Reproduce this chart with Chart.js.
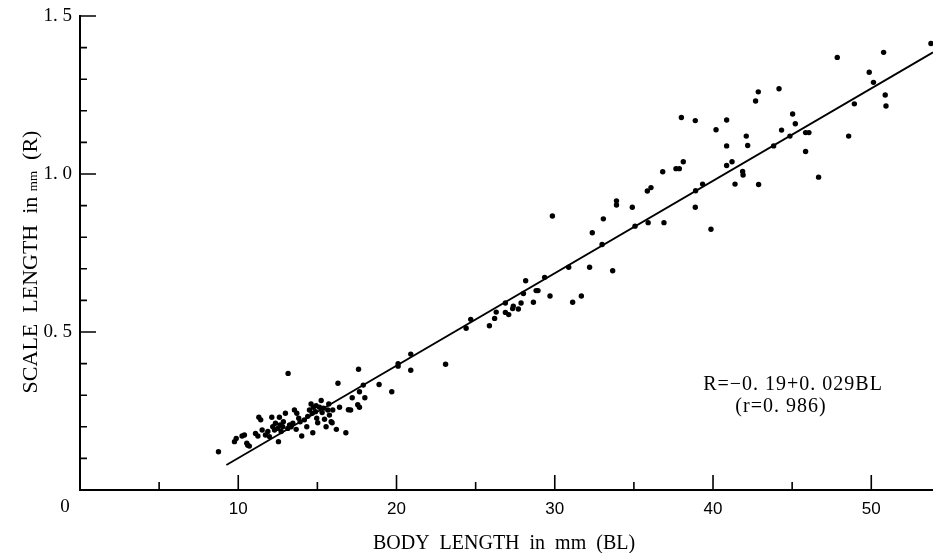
<!DOCTYPE html>
<html>
<head>
<meta charset="utf-8">
<script src="https://cdn.jsdelivr.net/npm/chart.js@4.4.1/dist/chart.umd.min.js"></script>
<style>
  html, body { margin: 0; padding: 0; background: #fff; }
  #wrap { width: 933px; height: 553px; }
</style>
</head>
<body>
<div id="wrap"><canvas id="chart" width="933" height="553"></canvas></div>
<script>
// body length (mm) and scale length (mm)
const bodyLength = [
  8.75, 9.76, 9.87, 10.24, 10.39, 10.54, 10.7, 10.6, 11.09, 11.24, 11.3, 11.42, 11.51, 11.72, 11.87, 11.97,
  12.12, 12.18, 12.29, 12.35, 12.5, 12.54, 12.6, 12.64, 12.71, 12.81, 12.85, 12.98, 13.13, 13.15, 13.24, 13.34,
  13.45, 13.55, 13.66, 13.7, 13.82, 13.91, 14.01, 14.18, 14.33, 14.39, 14.5, 14.6, 14.67, 14.71, 14.75, 14.88,
  14.92, 14.96, 15.02, 15.13, 15.24, 15.3, 15.38, 15.45, 15.55, 15.66, 15.72, 15.76, 15.87, 15.97,
  15.93, 16.2, 16.3, 16.4, 16.8, 16.96, 17.1, 17.2, 17.55, 17.6, 17.66, 17.66, 17.9, 18.0, 18.9, 19.7,
  20.1, 20.1, 20.9, 20.9, 23.1,
  24.4, 24.69, 25.87, 26.2, 26.3, 26.88, 27.09, 26.88, 27.34, 27.38, 27.7, 27.87, 28.02, 28.16, 28.65, 28.82,
  28.94, 29.36, 29.7, 29.85, 30.88, 31.13, 31.68, 32.2, 32.37, 32.99, 33.07, 33.66, 33.9, 33.9,
  34.9, 35.07, 35.9, 35.85, 36.08, 36.82, 36.9, 37.66, 37.87, 38.0, 38.12, 38.88, 38.9, 38.88, 39.34, 39.87,
  40.19, 40.86, 40.86, 40.86, 41.2, 41.39, 41.87, 41.9, 42.1, 42.19, 42.69, 42.86, 42.88, 43.83, 44.17, 44.33,
  44.86, 45.03, 45.2, 45.85, 46.06, 45.85, 46.67, 47.85, 48.57, 48.93, 49.87, 50.14, 50.78, 50.88, 50.93, 53.77
];
const scaleLength = [
  0.121, 0.153, 0.163, 0.171, 0.174, 0.148, 0.139, 0.142, 0.179, 0.171, 0.23, 0.222, 0.19, 0.174, 0.185, 0.169,
  0.23, 0.2, 0.19, 0.211, 0.195, 0.153, 0.23, 0.206, 0.185, 0.2, 0.216, 0.243, 0.195, 0.369, 0.206, 0.2,
  0.211, 0.253, 0.192, 0.243, 0.227, 0.216, 0.171, 0.222, 0.2, 0.233, 0.253, 0.272, 0.243, 0.181, 0.262, 0.248,
  0.267, 0.227, 0.213, 0.262, 0.283, 0.245, 0.259, 0.224, 0.2, 0.253, 0.272, 0.237, 0.216, 0.253,
  0.213, 0.192, 0.338, 0.262, 0.181, 0.254, 0.253, 0.292, 0.27, 0.382, 0.311, 0.262, 0.332, 0.292, 0.334, 0.311,
  0.40, 0.392, 0.43, 0.379, 0.398,
  0.512, 0.54, 0.52, 0.543, 0.563, 0.562, 0.555, 0.592, 0.574, 0.582, 0.573, 0.592, 0.622, 0.662, 0.594, 0.631,
  0.631, 0.673, 0.614, 0.867, 0.705, 0.594, 0.614, 0.705, 0.814, 0.777, 0.858, 0.694, 0.915, 0.902,
  0.895, 0.835, 0.846, 0.946, 0.957, 1.007, 0.846, 1.017, 1.017, 1.179, 1.039, 1.169, 0.947, 0.895, 0.968, 0.825,
  1.14, 1.171, 1.089, 1.027, 1.039, 0.968, 1.008, 0.997, 1.12, 1.09, 1.231, 1.26, 0.967, 1.089, 1.27, 1.139,
  1.12, 1.19, 1.159, 1.131, 1.131, 1.071, 0.99, 1.369, 1.12, 1.222, 1.322, 1.29, 1.385, 1.25, 1.215, 1.413
];
// regression line ends as drawn
const fitBL = [9.25, 53.9];
const fitR = [0.079, 1.385];

const xMajor = [10, 20, 30, 40, 50];
const xMinor = [5, 15, 25, 35, 45];
const xLabels = ['10', '20', '30', '40', '50'];
const yMajor = [0.5, 1.0, 1.5];
const yMinor = [0.1, 0.2, 0.3, 0.4, 0.6, 0.7, 0.8, 0.9, 1.1, 1.2, 1.3, 1.4];
const yLabels = ['0. 5', '1. 0', '1. 5'];
const eqLines = ['R=\u22120. 19+0. 029BL', '(r=0. 986)'];

const serif = '"Liberation Serif", "DejaVu Serif", serif';
const sans = '"Liberation Sans", Arial, sans-serif';

const points = bodyLength.map((v, i) => ({ x: v, y: scaleLength[i] }));
const fitLine = fitBL.map((v, i) => ({ x: v, y: fitR[i] }));

// ticks point inward, plus the free text
const extras = {
  id: 'extras',
  afterDraw(chart) {
    const ctx = chart.ctx;
    const xs = chart.scales.x, ys = chart.scales.y;
    const base = chart.chartArea.bottom, left = chart.chartArea.left;
    ctx.save();
    ctx.strokeStyle = '#000';
    ctx.lineWidth = 1.6;
    ctx.beginPath();
    xMajor.forEach(v => { const p = xs.getPixelForValue(v); ctx.moveTo(p, base); ctx.lineTo(p, base - 15); });
    xMinor.forEach(v => { const p = xs.getPixelForValue(v); ctx.moveTo(p, base); ctx.lineTo(p, base - 8); });
    yMajor.forEach(v => { const p = ys.getPixelForValue(v); ctx.moveTo(left, p); ctx.lineTo(left + 16, p); });
    yMinor.forEach(v => { const p = ys.getPixelForValue(v); ctx.moveTo(left, p); ctx.lineTo(left + 7, p); });
    ctx.stroke();

    ctx.fillStyle = '#000';
    ctx.textBaseline = 'alphabetic';
    ctx.textAlign = 'center';
    ctx.font = '19px ' + serif;
    ctx.fillText('0', 65, 512);

    ctx.font = '20px ' + serif;
    ctx.fillText('BODY  LENGTH  in  mm  (BL)', 504, 549);

    ctx.font = '20px ' + serif;
    ctx.letterSpacing = '1px';
    ctx.fillText(eqLines[0], 793, 390);
    ctx.fillText(eqLines[1], 781, 412);
    ctx.letterSpacing = '0px';

    // y title with small "mm"
    const parts = [['SCALE  LENGTH  in ', '22px '], ['mm', '13px '], ['  (R)', '22px ']];
    let total = 0;
    parts.forEach(p => { ctx.font = p[1] + serif; total += ctx.measureText(p[0]).width; });
    ctx.translate(37, 262);
    ctx.rotate(-Math.PI / 2);
    ctx.textAlign = 'left';
    let cx = -total / 2;
    parts.forEach(p => { ctx.font = p[1] + serif; ctx.fillText(p[0], cx, 0); cx += ctx.measureText(p[0]).width; });
    ctx.restore();
  }
};

new Chart(document.getElementById('chart'), {
  type: 'scatter',
  data: {
    datasets: [
      {
        data: points,
        pointRadius: 2.7,
        pointBackgroundColor: '#000',
        pointBorderWidth: 0
      },
      {
        data: fitLine,
        showLine: true,
        pointRadius: 0,
        borderColor: '#000',
        borderWidth: 1.8
      }
    ]
  },
  plugins: [extras],
  options: {
    responsive: false,
    devicePixelRatio: 1,
    animation: false,
    layout: { autoPadding: false, padding: { top: 16, right: 0, left: 0, bottom: 0 } },
    plugins: { legend: { display: false }, tooltip: { enabled: false } },
    scales: {
      x: {
        type: 'linear',
        min: 0,
        max: 53.9,
        afterBuildTicks: s => { s.ticks = xMajor.map(v => ({ value: v })); },
        afterFit: s => { s.height = 63; s.paddingLeft = 0; s.paddingRight = 0; },
        grid: { display: false, drawTicks: false },
        border: { display: true, color: '#000', width: 2 },
        ticks: {
          color: '#000',
          font: { family: sans, size: 17 },
          padding: 9,
          maxRotation: 0,
          callback: (v, i) => xLabels[i]
        }
      },
      y: {
        min: 0,
        max: 1.5,
        afterBuildTicks: s => { s.ticks = yMajor.map(v => ({ value: v })); },
        afterFit: s => { s.width = 80; s.paddingTop = 0; s.paddingBottom = 0; },
        grid: { display: false, drawTicks: false },
        border: { display: true, color: '#000', width: 2 },
        ticks: {
          color: '#000',
          font: { family: serif, size: 19 },
          padding: 8,
          callback: (v, i) => yLabels[i]
        }
      }
    }
  }
});
</script>
</body>
</html>
